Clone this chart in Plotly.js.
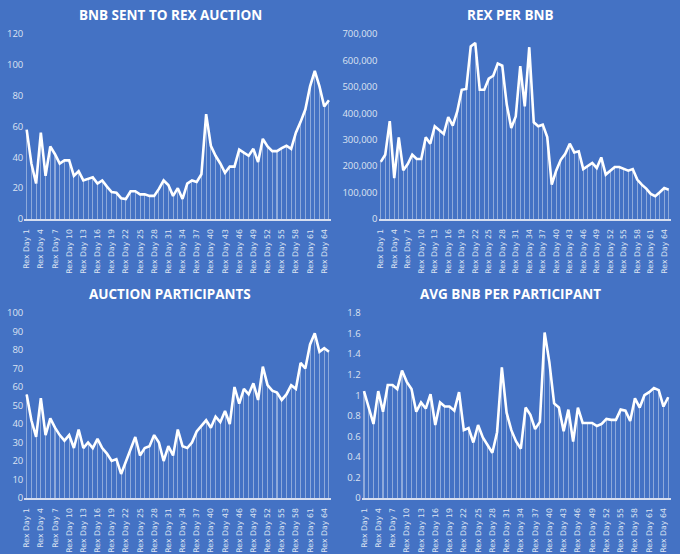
<!DOCTYPE html>
<html>
<head>
<meta charset="utf-8">
<script src="https://cdn.plot.ly/plotly-3.0.1.min.js"></script>
<style>
  html, body { margin: 0; padding: 0; background: #4472C4; }
  #chart { width: 680px; height: 554px; }
</style>
</head>
<body>
<div id="chart"></div>
<script>
// ---- Data ----
var days = [];
for (var i = 1; i <= 65; i++) days.push("Rex Day " + i);
var tickLabels = ["Rex Day 1","Rex Day 4","Rex Day 7","Rex Day 10","Rex Day 13","Rex Day 16","Rex Day 19","Rex Day 22","Rex Day 25","Rex Day 28","Rex Day 31","Rex Day 34","Rex Day 37","Rex Day 40","Rex Day 43","Rex Day 46","Rex Day 49","Rex Day 52","Rex Day 55","Rex Day 58","Rex Day 61","Rex Day 64"];

var bnbSent = [58,36,23,56,28,47,42,36,38,38,28,31,25,26,27,23,25,21,17.5,17,13.5,13,18,18,16,16,15,15,19.5,25,22,15,20,13,23,25,24,29,68,47.5,41,36,30,34,34,45,43,41,45.5,37,52,47,44,44,46,47.5,45.5,56,63,71,86,96,86,73,77];

var rexPerBnb = [216000,243000,370000,155000,309000,184000,208000,243000,227000,227000,309000,285000,351000,335000,322000,386000,353000,407000,489000,492000,653000,666000,489000,489000,531000,542000,588000,580000,433000,344000,388000,578000,426000,650000,366000,351000,357000,310000,130000,184000,224000,247000,285000,252000,256000,189000,199000,212000,193000,233000,168000,184000,197000,197000,190000,183000,189000,149000,130000,115000,95000,86000,101000,117000,111000];

var participants = [56,42,33,54,34,43,38,34,31,34,27,37,27,30,27,32,27,24,20,21,13,20,27,33,23,27,28,34,30,20,28,23,37,28,27,30,36,39,42,38,44,41,47,40,60,51,59,56,62,53,71,61,58,57,53,56,61,59,73,70,83,89,79,81,79];

var avgBnb = [1.04,0.87,0.72,1.04,0.84,1.10,1.10,1.06,1.24,1.13,1.06,0.84,0.93,0.87,1.01,0.71,0.93,0.89,0.89,0.85,1.03,0.66,0.68,0.54,0.71,0.59,0.52,0.44,0.64,1.27,0.83,0.66,0.55,0.48,0.88,0.81,0.67,0.74,1.61,1.32,0.92,0.88,0.65,0.86,0.55,0.88,0.73,0.73,0.73,0.70,0.72,0.77,0.76,0.76,0.86,0.85,0.75,0.97,0.88,1.00,1.03,1.07,1.05,0.89,0.98];

var titles = ["BNB SENT TO REX AUCTION","REX PER BNB","AUCTION PARTICIPANTS","AVG BNB PER PARTICIPANT"];

// ---- Build ----
var W = 680, H = 554;
var series = [bnbSent, rexPerBnb, participants, avgBnb];
var panels = [
  {x0: 24.3, x1: 331.3, yb: 219, yt: 34, range: [0,120], dtick: 20, fmt: ""},
  {x0: 378.5, x1: 671, yb: 219, yt: 34, range: [0,700000], dtick: 100000, fmt: ",d"},
  {x0: 24.3, x1: 331.3, yb: 498, yt: 313, range: [0,100], dtick: 10, fmt: ""},
  {x0: 361.6, x1: 670.6, yb: 498, yt: 313, range: [0,1.8], dtick: 0.2, fmt: ""}
];
var titleY = [15, 15, 294, 294];
var titleX = [170, 510, 170, 510];

var tickColor = "#DCE3F2";
var traces = [];
var layout = {
  width: W, height: H,
  margin: {l: 0, r: 0, t: 0, b: 0},
  paper_bgcolor: "#4472C4",
  plot_bgcolor: "#4472C4",
  showlegend: false,
  bargap: 0,
  font: {family: "Open Sans, sans-serif", color: tickColor},
  annotations: []
};

panels.forEach(function (p, k) {
  var n = k + 1;
  var xa = n === 1 ? "x" : "x" + n;
  var ya = n === 1 ? "y" : "y" + n;
  traces.push({
    type: "bar", x: days, y: series[k], xaxis: xa, yaxis: ya,
    width: 0.22,
    marker: {color: "rgba(255,255,255,0.4)", line: {width: 0}},
    hoverinfo: "skip"
  });
  traces.push({
    type: "scatter", mode: "lines", x: days, y: series[k], xaxis: xa, yaxis: ya,
    line: {color: "#FFFFFF", width: 2.6}
  });
  layout["xaxis" + (n === 1 ? "" : n)] = {
    domain: [p.x0 / W, p.x1 / W],
    anchor: ya,
    type: "category",
    range: [-0.5, 64.5],
    tickmode: "array",
    tickvals: tickLabels,
    ticktext: tickLabels,
    tickangle: -90,
    tickfont: {size: 7.8, color: tickColor, family: "DejaVu Sans, sans-serif"},
    showgrid: false,
    zeroline: false,
    showline: true,
    linecolor: "#D6DEF0",
    linewidth: 2,
    ticks: "",
    ticklabelstandoff: 5
  };
  layout["yaxis" + (n === 1 ? "" : n)] = {
    domain: [1 - p.yb / H, 1 - p.yt / H],
    anchor: xa,
    range: p.range,
    dtick: p.dtick,
    tick0: 0,
    tickformat: p.fmt,
    tickfont: {size: 9.5, color: tickColor, family: "Open Sans, sans-serif"},
    showgrid: false,
    zeroline: false,
    showline: false,
    ticks: ""
  };
  layout.annotations.push({
    xref: "paper", yref: "paper",
    x: titleX[k] / W, y: 1 - titleY[k] / H,
    xanchor: "center", yanchor: "middle",
    text: "<b>" + titles[k] + "</b>",
    showarrow: false,
    font: {size: 13.5, color: "#FFFFFF", family: "Open Sans, sans-serif"}
  });
});

Plotly.newPlot("chart", traces, layout, {displayModeBar: false, staticPlot: true});
</script>
</body>
</html>
